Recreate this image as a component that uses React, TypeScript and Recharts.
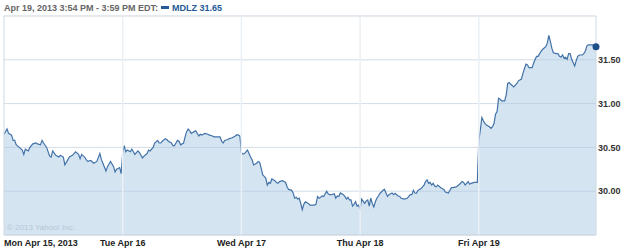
import {
  Area,
  AreaChart,
  CartesianGrid,
  ReferenceDot,
  ReferenceLine,
  XAxis,
  YAxis,
} from "recharts";

// 5-minute bars per session, [bar number from the open, price]
const monday: [number, number][] = [
  [0, 30.65], [2, 30.71], [3, 30.66], [5, 30.64], [6, 30.58], [7, 30.58], [8, 30.53],
  [10, 30.5], [12, 30.47], [13, 30.42], [14, 30.48], [16, 30.46], [17, 30.5], [19, 30.54],
  [21, 30.55], [22, 30.54], [24, 30.53], [25, 30.58], [26, 30.55], [28, 30.5], [30, 30.4],
  [31, 30.39], [32, 30.46], [34, 30.41], [36, 30.39], [37, 30.41], [39, 30.39], [40, 30.3],
  [42, 30.36], [43, 30.39], [45, 30.41], [47, 30.45], [49, 30.42], [50, 30.37], [51, 30.42],
  [53, 30.39], [54, 30.36], [55, 30.34], [57, 30.35], [59, 30.32], [61, 30.34], [63, 30.43],
  [64, 30.36], [65, 30.32], [67, 30.23], [68, 30.28], [70, 30.34], [72, 30.28], [73, 30.22],
  [74, 30.25], [76, 30.27], [77, 30.2],
];
const tuesday: [number, number][] = [
  [0, 30.44], [1, 30.52], [2, 30.45], [3, 30.47], [5, 30.45], [6, 30.48], [7, 30.45],
  [8, 30.42], [9, 30.44], [10, 30.46], [11, 30.44], [12, 30.41], [13, 30.38], [14, 30.4],
  [16, 30.43], [17, 30.47], [18, 30.46], [20, 30.5], [21, 30.55], [23, 30.58], [24, 30.55],
  [25, 30.55], [26, 30.57], [28, 30.6], [29, 30.59], [30, 30.57], [32, 30.55], [33, 30.52],
  [34, 30.52], [35, 30.55], [36, 30.58], [37, 30.57], [38, 30.53], [40, 30.55], [41, 30.62],
  [42, 30.68], [43, 30.71], [44, 30.69], [45, 30.66], [46, 30.67], [47, 30.68], [48, 30.69],
  [50, 30.63], [51, 30.65], [52, 30.64], [53, 30.65], [54, 30.66], [56, 30.65], [57, 30.64],
  [59, 30.63], [60, 30.62], [62, 30.62], [64, 30.62], [65, 30.57], [66, 30.55], [67, 30.58],
  [69, 30.59], [70, 30.6], [72, 30.61], [74, 30.63], [75, 30.645], [76, 30.64], [77, 30.63],
];
const wednesday: [number, number][] = [
  [0, 30.44], [1, 30.425], [2, 30.43], [4, 30.47], [5, 30.43], [6, 30.39], [7, 30.36],
  [8, 30.3], [10, 30.32], [11, 30.34], [12, 30.33], [13, 30.26], [14, 30.185], [15, 30.17],
  [16, 30.15], [17, 30.07], [18, 30.1], [19, 30.09], [20, 30.14], [22, 30.12], [23, 30.1],
  [24, 30.09], [25, 30.11], [27, 30.12], [28, 30.11], [29, 30.1], [30, 30.05], [31, 30.02],
  [33, 30.01], [34, 29.98], [35, 29.92], [36, 29.93], [37, 29.91], [38, 29.92], [39, 29.86],
  [40, 29.79], [41, 29.85], [42, 29.88], [44, 29.86], [45, 29.84], [46, 29.84], [48, 29.84],
  [49, 29.85], [50, 29.94], [51, 29.92], [52, 29.93], [53, 29.945], [54, 29.94], [56, 30.0],
  [57, 29.97], [58, 29.96], [59, 29.96], [61, 29.97], [62, 29.92], [63, 29.945], [64, 29.94],
  [65, 29.98], [67, 29.96], [68, 29.94], [69, 29.91], [70, 29.93], [71, 29.9], [72, 29.9],
  [73, 29.83], [74, 29.85], [75, 29.88], [76, 29.83], [77, 29.84],
];
const thursday: [number, number][] = [
  [0, 29.8], [1, 29.91], [3, 29.86], [4, 29.89], [5, 29.9], [6, 29.83], [7, 29.92],
  [8, 29.86], [9, 29.82], [10, 29.88], [11, 29.92], [12, 29.945], [13, 29.975], [14, 29.99],
  [15, 30.01], [16, 30.02], [17, 29.98], [18, 29.94], [19, 29.96], [20, 29.97], [21, 29.98],
  [22, 29.96], [23, 29.975], [24, 29.96], [25, 29.945], [26, 29.94], [27, 29.92], [29, 29.91],
  [31, 29.92], [32, 29.94], [33, 29.96], [34, 29.96], [35, 30.01], [36, 29.98], [37, 29.975],
  [38, 30.01], [39, 30.02], [40, 30.03], [42, 30.07], [43, 30.11], [44, 30.13], [45, 30.09],
  [46, 30.1], [47, 30.07], [48, 30.09], [49, 30.06], [50, 30.05], [51, 30.07], [53, 30.04],
  [55, 30.02], [56, 29.99], [58, 29.98], [59, 30.01], [60, 30.04], [61, 30.04], [63, 30.05],
  [64, 30.06], [66, 30.09], [67, 30.11], [68, 30.1], [69, 30.07], [70, 30.09], [71, 30.11],
  [72, 30.08], [73, 30.09], [75, 30.1], [77, 30.1],
];
const friday: [number, number][] = [
  [0, 30.58], [1, 30.7], [2, 30.84], [3, 30.805], [4, 30.775], [5, 30.756], [7, 30.736],
  [8, 30.717], [9, 30.736], [10, 30.775], [11, 30.88], [12, 30.91], [13, 31.06], [14, 31.05],
  [15, 31.03], [17, 31.03], [18, 31.1], [19, 31.23], [20, 31.24], [21, 31.22], [23, 31.19],
  [24, 31.21], [25, 31.23], [26, 31.26], [28, 31.28], [29, 31.345], [30, 31.4], [31, 31.45],
  [32, 31.44], [33, 31.41], [35, 31.41], [36, 31.46], [37, 31.505], [38, 31.54], [39, 31.54],
  [40, 31.57], [41, 31.6], [42, 31.62], [44, 31.65], [45, 31.69], [46, 31.78], [47, 31.71],
  [48, 31.63], [49, 31.58], [51, 31.57], [52, 31.57], [53, 31.54], [54, 31.53], [55, 31.555],
  [56, 31.52], [57, 31.53], [58, 31.505], [59, 31.57], [60, 31.57], [61, 31.505], [63, 31.43],
  [64, 31.49], [65, 31.54], [66, 31.555], [68, 31.555], [69, 31.57], [70, 31.6], [71, 31.66],
  [72, 31.67], [74, 31.67], [75, 31.67], [77, 31.65],
];

const days = [monday, tuesday, wednesday, thursday, friday];
const dayLabels = ["Mon Apr 15, 2013", "Tue Apr 16", "Wed Apr 17", "Thu Apr 18", "Fri Apr 19"];
const barsPerDay = 78;
const priceTicks = [30, 30.5, 31, 31.5];

const data = days.flatMap((bars, d) =>
  bars.map(([bar, p]) => ({ t: d * barsPerDay + bar, p }))
);
const dayStarts = dayLabels.map((_, d) => d * barsPerDay);
const last = data[data.length - 1];

const FONT = "'Liberation Sans', Arial, sans-serif";

function DayTick(props: any) {
  const { x, y, payload, index } = props;
  return (
    <text
      x={x}
      y={y}
      dy={9}
      textAnchor={index === 0 ? "start" : "middle"}
      fontFamily={FONT}
      fontSize={9}
      fontWeight="bold"
      fill="#222"
    >
      {dayLabels[index] ?? payload.value}
    </text>
  );
}

export default function App() {
  return (
    <div style={{ position: "absolute", left: 0, top: 0, width: 625, height: 248, background: "#fff" }}>
      <div
        style={{
          position: "absolute",
          left: 4,
          top: 2,
          fontFamily: FONT,
          fontSize: 9,
          fontWeight: "bold",
          color: "#666",
          whiteSpace: "nowrap",
          lineHeight: "12px",
        }}
      >
        Apr 19, 2013 3:54 PM - 3:59 PM EDT:
        <span style={{ display: "inline-block", width: 8, height: 3, background: "#245a96", margin: "0 3px 2px 3px", verticalAlign: "middle" }} />
        <span style={{ color: "#245a96" }}>MDLZ 31.65</span>
      </div>
      <AreaChart
        width={625}
        height={248}
        data={data}
        margin={{ top: 16, right: 0, bottom: 0, left: 4 }}
      >
        <CartesianGrid vertical={false} stroke="#d3dde6" />
        <XAxis
          type="number"
          dataKey="t"
          domain={[0, 389]}
          ticks={dayStarts}
          tick={<DayTick />}
          tickLine={false}
          tickSize={0}
          axisLine={{ stroke: "#cfd9e2" }}
          height={13}
          interval={0}
        />
        <YAxis
          orientation="right"
          domain={[29.5, 32]}
          ticks={priceTicks}
          tickFormatter={(v) => v.toFixed(2)}
          tickLine={false}
          tickSize={0}
          tickMargin={2}
          axisLine={{ stroke: "#cfd9e2" }}
          width={29}
          tick={{ fontFamily: FONT, fontSize: 9, fontWeight: "bold", fill: "#333", textAnchor: "start" }}
        />
        <Area
          type="linear"
          dataKey="p"
          stroke="#4272a8"
          strokeWidth={1.2}
          fill="#a8c7e1"
          fillOpacity={0.48}
          isAnimationActive={false}
          dot={false}
          activeDot={false}
        />
        {dayStarts.slice(1).map((t) => (
          <ReferenceLine key={t} x={t} stroke="#eaf0f5" strokeWidth={1.5} />
        ))}
        <ReferenceLine x={0} stroke="#cfd9e2" />
        <ReferenceLine y={32} stroke="#dfe5ea" />
        <ReferenceDot x={last.t} y={last.p} r={3.5} fill="#1d4f88" stroke="none" />
      </AreaChart>
      <div
        style={{
          position: "absolute",
          left: 7,
          top: 223,
          fontFamily: FONT,
          fontSize: 8,
          color: "#b3c6d6",
          whiteSpace: "nowrap",
        }}
      >
        © 2013 Yahoo! Inc.
      </div>
    </div>
  );
}
